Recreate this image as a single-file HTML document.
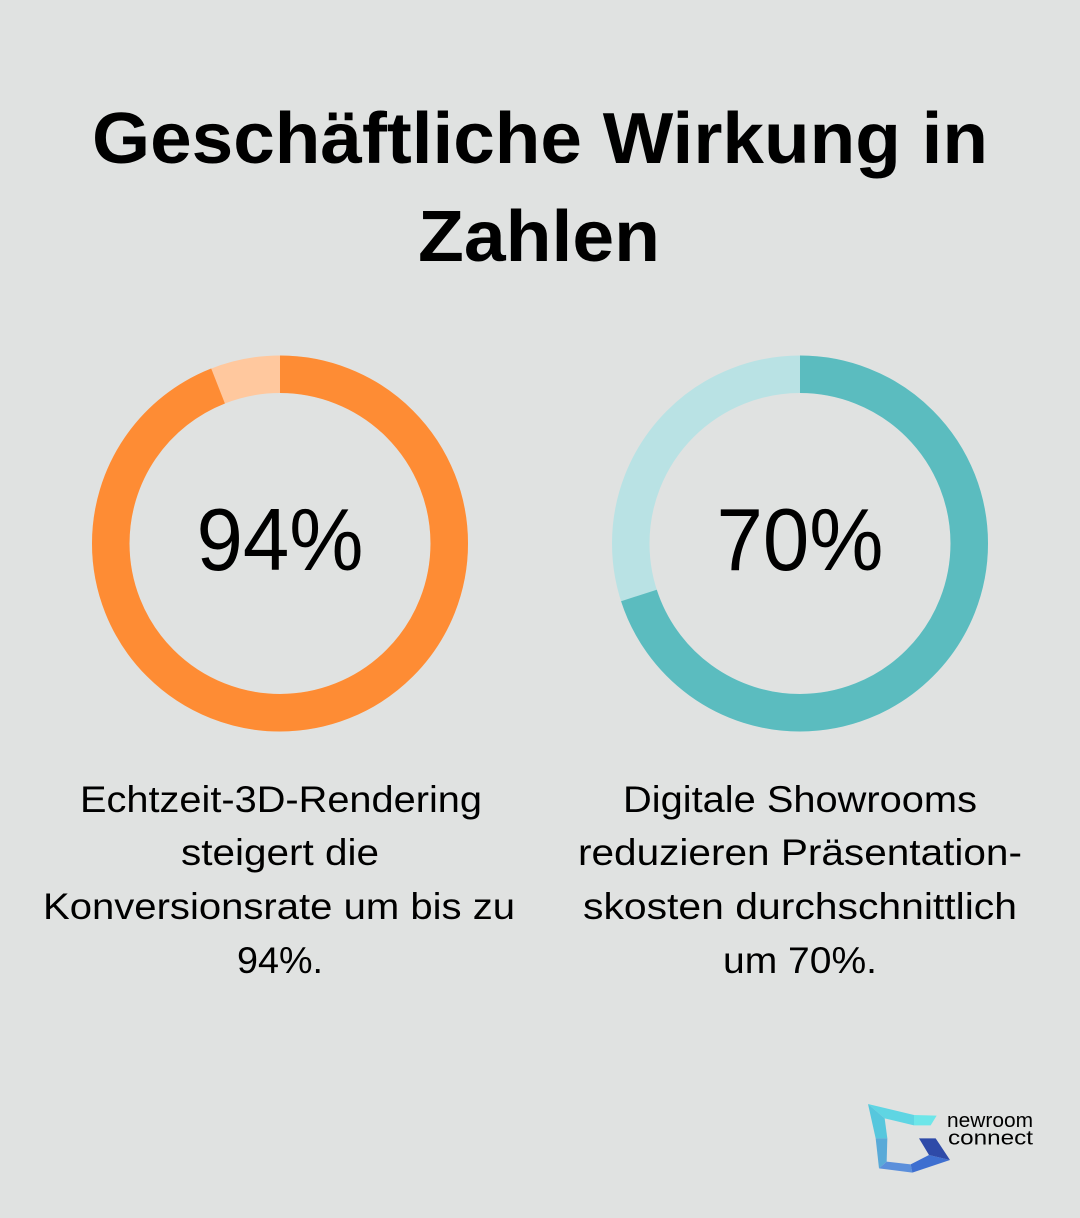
<!DOCTYPE html>
<html>
<head>
<meta charset="utf-8">
<style>
  html, body { margin:0; padding:0; background:#e0e2e1; }
  body { width:1080px; height:1218px; overflow:hidden; }
  svg { display:block; }
  text { font-family:"Liberation Sans", sans-serif; fill:#000; }
</style>
</head>
<body>
<svg width="1080" height="1218" viewBox="0 0 1080 1218" xmlns="http://www.w3.org/2000/svg">
  <rect x="0" y="0" width="1080" height="1218" fill="#e0e2e1"/>

  <!-- Title -->
  <text x="540" y="163" text-anchor="middle" font-size="72" font-weight="bold" textLength="896" lengthAdjust="spacingAndGlyphs">Geschäftliche Wirkung in</text>
  <text x="539" y="261" text-anchor="middle" font-size="72" font-weight="bold" textLength="242" lengthAdjust="spacingAndGlyphs">Zahlen</text>

  <!-- Left donut -->
  <circle cx="280" cy="543.5" r="169.25" fill="none" stroke="#ffc89e" stroke-width="37.5"/>
  <circle cx="280" cy="543.5" r="169.25" fill="none" stroke="#fe8c34" stroke-width="37.5"
          stroke-dasharray="999.6 2000" transform="rotate(-90 280 543.5)"/>
  <text x="280" y="570" text-anchor="middle" font-size="88" textLength="167" lengthAdjust="spacingAndGlyphs">94%</text>

  <!-- Right donut -->
  <circle cx="800" cy="543.5" r="169.25" fill="none" stroke="#b9e2e4" stroke-width="37.5"/>
  <circle cx="800" cy="543.5" r="169.25" fill="none" stroke="#5bbcbf" stroke-width="37.5"
          stroke-dasharray="744.4 2000" transform="rotate(-90 800 543.5)"/>
  <text x="800" y="570" text-anchor="middle" font-size="88" textLength="167" lengthAdjust="spacingAndGlyphs">70%</text>

  <!-- Left description -->
  <g font-size="37" text-anchor="middle" fill="#111">
    <text x="281" y="812" textLength="402" lengthAdjust="spacingAndGlyphs">Echtzeit-3D-Rendering</text>
    <text x="280" y="865" textLength="198" lengthAdjust="spacingAndGlyphs">steigert die</text>
    <text x="279" y="919" textLength="472" lengthAdjust="spacingAndGlyphs">Konversionsrate um bis zu</text>
    <text x="280" y="973" textLength="86" lengthAdjust="spacingAndGlyphs">94%.</text>
  </g>

  <!-- Right description -->
  <g font-size="37" text-anchor="middle" fill="#111">
    <text x="800" y="812" textLength="354" lengthAdjust="spacingAndGlyphs">Digitale Showrooms</text>
    <text x="800" y="865" textLength="444" lengthAdjust="spacingAndGlyphs">reduzieren Präsentation-</text>
    <text x="800" y="919" textLength="434" lengthAdjust="spacingAndGlyphs">skosten durchschnittlich</text>
    <text x="800" y="973" textLength="154" lengthAdjust="spacingAndGlyphs">um 70%.</text>
  </g>

  <!-- Logo -->
  <g transform="translate(864 1100) scale(0.3333)">
    <polygon points="150,45 218,47 200,76 150,76" fill="#6de6e9"/>
    <polygon points="12,12 150,45 150,76 62,55" fill="#5fd5e3"/>
    <polygon points="12,12 62,55 70,115 35,115" fill="#56c7dd"/>
    <polygon points="35,115 70,115 68,185 45,205" fill="#59aad8"/>
    <polygon points="45,205 68,185 140,193 145,218" fill="#5b8fdb"/>
    <polygon points="140,193 195,165 258,180 145,218" fill="#3e6fd0"/>
    <polygon points="165,115 215,115 258,180 195,165" fill="#2e4aa8"/>
  </g>
  <text x="947" y="1127" font-size="20" textLength="86" lengthAdjust="spacingAndGlyphs" fill="#111">newroom</text>
  <text x="948" y="1144.5" font-size="20" textLength="85" lengthAdjust="spacingAndGlyphs" fill="#111">connect</text>
</svg>
</body>
</html>
